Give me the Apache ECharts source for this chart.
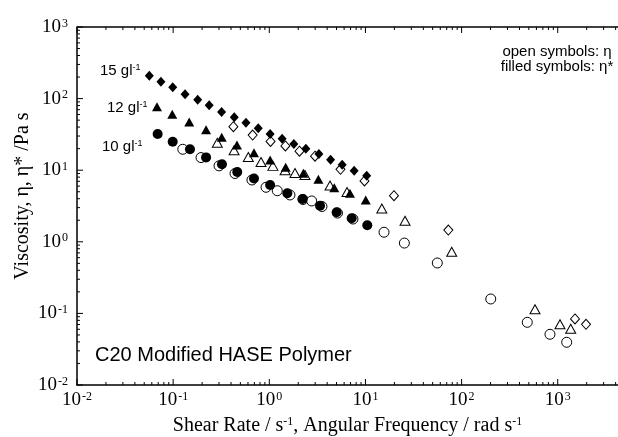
<!DOCTYPE html>
<html><head><meta charset="utf-8">
<script src="https://cdn.jsdelivr.net/npm/echarts@6/dist/echarts.min.js"></script>
<style>html,body{margin:0;padding:0;background:#fff}#c{width:618px;height:437px}</style>
</head><body><div id="c"></div>
<script>
// 15 g/l, filled symbols: eta*
const filled15X = [0.0565, 0.0746, 0.099, 0.133, 0.180, 0.237, 0.319, 0.432, 0.572, 0.767, 1.02, 1.36, 1.80, 2.40, 3.28, 4.34, 5.73, 7.63, 10.3];
const filled15Y = [209, 172, 144, 115, 96.6, 80.6, 65, 54.8, 46.0, 38.5, 32.0, 27.5, 23.2, 20.0, 16.8, 14.0, 11.9, 9.84, 8.38];
// 12 g/l, filled
const filled12X = [0.0679, 0.0979, 0.147, 0.220, 0.320, 0.461, 0.693, 1.02, 1.48, 2.26, 3.24, 4.74, 6.90, 10.07];
const filled12Y = [77.1, 60.4, 47.1, 36.8, 28.8, 22.5, 17.5, 13.9, 11.0, 9.05, 7.46, 5.70, 4.76, 3.84];
// 10 g/l, filled
const filled10X = [0.069, 0.0989, 0.1496, 0.220, 0.322, 0.464, 0.693, 1.02, 1.54, 2.22, 3.37, 5.02, 7.19, 10.45];
const filled10Y = [32.0, 25.0, 19.6, 15.1, 12.1, 9.44, 7.66, 6.21, 4.76, 3.96, 3.19, 2.58, 2.13, 1.70];
// 10 g/l, open symbols: eta
const open10X = [0.126, 0.195, 0.300, 0.44, 0.66, 0.925, 1.21, 1.64, 2.24, 2.76, 3.53, 5.12, 7.42, 15.6, 25.4, 55.9, 201, 482, 830, 1239];
const open10Y = [19.6, 15.0, 11.5, 9.0, 7.3, 5.77, 5.17, 4.51, 3.90, 3.72, 3.11, 2.52, 2.08, 1.36, 0.96, 0.506, 0.159, 0.0751, 0.0511, 0.0395];
// 12 g/l, open
const open12X = [0.288, 0.43, 0.605, 0.82, 1.09, 1.46, 1.85, 2.35, 4.28, 6.43, 14.8, 25.8, 78.9, 580, 1055, 1364];
const open12Y = [24.2, 19.0, 15.3, 13.0, 11.5, 9.97, 9.14, 8.57, 6.11, 4.96, 2.92, 1.97, 0.727, 0.114, 0.0705, 0.0611];
// 15 g/l, open
const open15X = [0.423, 0.671, 1.03, 1.47, 2.06, 2.99, 5.50, 9.77, 19.8, 72.8, 1511, 1968];
const open15Y = [40.5, 31.0, 25.2, 21.8, 18.4, 15.7, 10.3, 7.07, 4.40, 1.46, 0.0836, 0.0705];

// axis ticks (decades are labelled)
const xMajorTicks = [0.01, 0.1, 1, 10, 100, 1000];
const yMajorTicks = [0.01, 0.1, 1, 10, 100, 1000];
const xMin = 0.01, xMax = 4233, yMin = 0.01, yMax = 1000;

function minors(lo, hi, maxVal) {
  const out = [];
  for (let e = lo; e < hi; e++) for (let m = 2; m <= 9; m++) {
    const v = m * Math.pow(10, e);
    if (v <= maxVal) out.push(+v.toPrecision(3));
  }
  return out;
}
const xMinorTicks = minors(-2, 4, xMax);
const yMinorTicks = minors(-2, 3, yMax);

function zip(xs, ys) { return xs.map((x, i) => [x, ys[i]]); }

const serif = 'Liberation Serif';
function supRich() {
  return {
    b: { fontFamily: serif, fontSize: 19, color: '#000' },
    s: { fontFamily: serif, fontSize: 12, color: '#000', verticalAlign: 'top', padding: [0, 0, 0, 1] }
  };
}
function supFmt(v) {
  const l = Math.log10(v);
  const e = Math.round(l);
  if (Math.abs(l - e) > 1e-6) return '';
  return '{b|10}{s|' + e + '}';
}
const axLineStyle = { show: true, onZero: false, lineStyle: { color: '#000', width: 1.5 } };
const tickStroke = { stroke: '#000', lineWidth: 1 };

// tick marks drawn through the axes' own scales (api.coord)
function renderXTick(params, api) {
  const v = api.value(0), len = api.value(2) === 1 ? 6 : 3;
  const b = api.coord([v, yMin]);
  const t = api.coord([v, yMax]);
  return { type: 'group', children: [
    { type: 'line', shape: { x1: b[0], y1: b[1], x2: b[0], y2: b[1] - len }, style: tickStroke },
    { type: 'line', shape: { x1: t[0], y1: t[1], x2: t[0], y2: t[1] + len }, style: tickStroke }
  ] };
}
function renderYTick(params, api) {
  const v = api.value(1), len = api.value(2) === 1 ? 6 : 3;
  const l = api.coord([xMin, v]);
  return { type: 'line', shape: { x1: l[0], y1: l[1], x2: l[0] + len, y2: l[1] }, style: tickStroke };
}
function renderTopLine(params, api) {
  const a = api.coord([xMin, yMax]);
  const b = api.coord([xMax, yMax]);
  return { type: 'line', shape: { x1: a[0], y1: a[1], x2: b[0], y2: b[1] }, style: { stroke: '#000', lineWidth: 1.5 } };
}
const xTickData = xMajorTicks.map(v => [v, 1, 1]).concat(xMinorTicks.map(v => [v, 1, 0]));
const yTickData = yMajorTicks.map(v => [1, v, 1]).concat(yMinorTicks.map(v => [1, v, 0]));

const supSmall = { font: '9px "Liberation Sans"', fill: '#000', verticalAlign: 'top' };
const annFont = '15px "Liberation Sans"';

const chart = echarts.init(document.getElementById('c'));
chart.setOption({
  animation: false,
  grid: { left: 77, right: 0, top: 27, bottom: 52, outerBoundsMode: 'none', containLabel: false },
  xAxis: {
    type: 'log', min: xMin, max: xMax, position: 'bottom', axisLine: axLineStyle,
    axisTick: { show: false }, splitLine: { show: false }, minorTick: { show: false },
    axisLabel: { show: true, formatter: supFmt, rich: supRich(), margin: 6, showMaxLabel: false },
    name: '{t|Shear Rate / s}{s|-1}{t|, Angular Frequency / rad s}{s|-1}', nameLocation: 'middle', nameGap: 31,
    nameTextStyle: { rich: {
      t: { fontFamily: serif, fontSize: 20, color: '#000' },
      s: { fontFamily: serif, fontSize: 12, color: '#000', verticalAlign: 'top' } } }
  },
  yAxis: {
    type: 'log', min: yMin, max: yMax, position: 'left', axisLine: axLineStyle,
    axisTick: { show: false }, splitLine: { show: false }, minorTick: { show: false },
    axisLabel: { show: true, formatter: supFmt, rich: supRich(), margin: 9 }
  },
  graphic: [
    { type: 'text', x: 23, y: 196, rotation: Math.PI / 2, style: {
      text: 'Viscosity, η, η* /Pa s', font: '20px "Liberation Serif"', fill: '#000', align: 'center', verticalAlign: 'middle' } },
    { type: 'text', x: 100, y: 71, style: { text: '{a|15 gl}{s|-1}', align: 'left', verticalAlign: 'middle',
      rich: { a: { font: annFont, fill: '#000' }, s: supSmall } } },
    { type: 'text', x: 107, y: 108, style: { text: '{a|12 gl}{s|-1}', align: 'left', verticalAlign: 'middle',
      rich: { a: { font: annFont, fill: '#000' }, s: supSmall } } },
    { type: 'text', x: 102, y: 147, style: { text: '{a|10 gl}{s|-1}', align: 'left', verticalAlign: 'middle',
      rich: { a: { font: annFont, fill: '#000' }, s: supSmall } } },
    { type: 'text', x: 557, y: 52, style: { text: 'open symbols: η', font: annFont, fill: '#000', align: 'center', verticalAlign: 'middle' } },
    { type: 'text', x: 557, y: 67, style: { text: 'filled symbols: η*', font: annFont, fill: '#000', align: 'center', verticalAlign: 'middle' } },
    { type: 'text', x: 95, y: 355, style: { text: 'C20 Modified HASE Polymer', font: '20px "Liberation Sans"', fill: '#000', align: 'left', verticalAlign: 'middle' } }
  ],
  series: [
    { name: 'x ticks', type: 'custom', renderItem: renderXTick, data: xTickData, encode: { x: 0, y: 1 }, clip: false, silent: true, z: 5 },
    { name: 'y ticks', type: 'custom', renderItem: renderYTick, data: yTickData, encode: { x: 0, y: 1 }, clip: false, silent: true, z: 5 },
    { name: 'top frame', type: 'custom', renderItem: renderTopLine, data: [[xMin, yMax]], encode: { x: 0, y: 1 }, clip: false, silent: true, z: 5 },
    { name: 'η 10 g/l', type: 'scatter', data: zip(open10X, open10Y), symbol: 'circle', symbolSize: 10,
      itemStyle: { color: '#fff', borderColor: '#000', borderWidth: 1, opacity: 1 } },
    { name: 'η 12 g/l', type: 'scatter', data: zip(open12X, open12Y), symbol: 'triangle', symbolSize: [10, 9],
      itemStyle: { color: '#fff', borderColor: '#000', borderWidth: 1, opacity: 1 } },
    { name: 'η 15 g/l', type: 'scatter', data: zip(open15X, open15Y), symbol: 'diamond', symbolSize: [9, 10],
      itemStyle: { color: '#fff', borderColor: '#000', borderWidth: 1, opacity: 1 } },
    { name: 'η* 10 g/l', type: 'scatter', data: zip(filled10X, filled10Y), symbol: 'circle', symbolSize: 10,
      itemStyle: { color: '#000', opacity: 1 } },
    { name: 'η* 12 g/l', type: 'scatter', data: zip(filled12X, filled12Y), symbol: 'triangle', symbolSize: [10, 9],
      itemStyle: { color: '#000', opacity: 1 } },
    { name: 'η* 15 g/l', type: 'scatter', data: zip(filled15X, filled15Y), symbol: 'diamond', symbolSize: [9, 10],
      itemStyle: { color: '#000', opacity: 1 } }
  ]
});
</script></body></html>
